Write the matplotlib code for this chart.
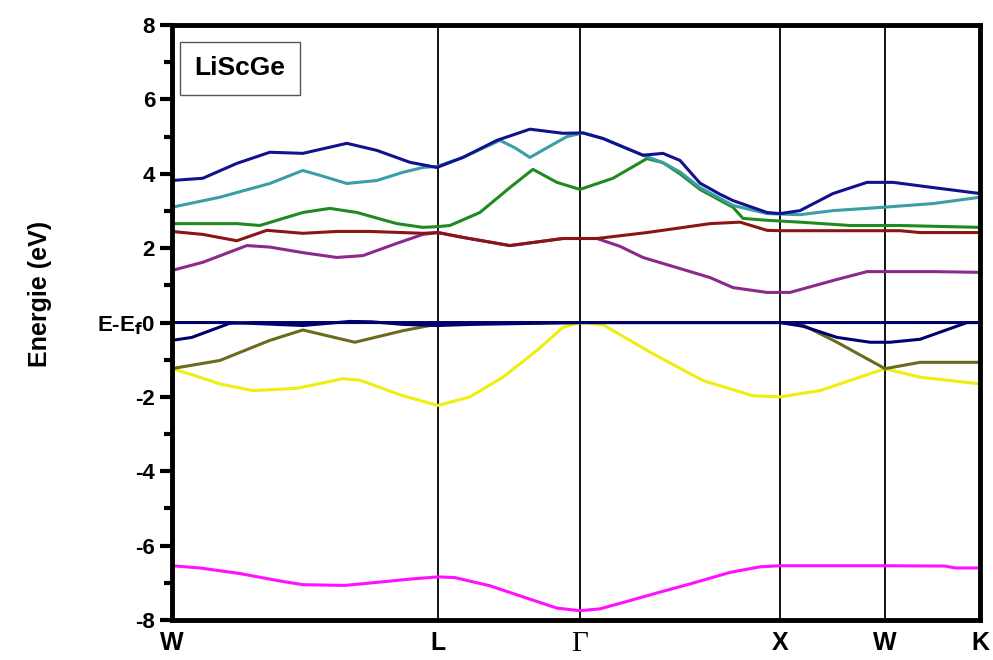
import matplotlib
matplotlib.use("Agg")
import matplotlib.pyplot as plt
import numpy as np

plt.rcParams['font.family'] = ['Liberation Sans', 'DejaVu Sans']
plt.rcParams['mathtext.default'] = 'bf'

# high-symmetry points along the k path
k_names = ['W', 'L', 'Γ', 'X', 'W', 'K']
k_pos = [0, 266, 408, 608, 713, 808]

# bands: (k, E)
mag_k = [0, 28, 68, 108, 131, 173, 208, 238, 266, 283, 318, 348, 385, 408, 428, 451, 488, 518, 558, 588, 608, 713, 773, 783, 808]
mag_e = [-6.54, -6.6, -6.75, -6.95, -7.05, -7.07, -6.98, -6.9, -6.84, -6.86, -7.08, -7.35, -7.68, -7.75, -7.7, -7.53, -7.25, -7.03, -6.72, -6.57, -6.54, -6.54, -6.55, -6.6, -6.6]

yel_k = [0, 20, 48, 81, 125, 171, 188, 231, 266, 298, 331, 365, 391, 408, 431, 481, 531, 581, 608, 648, 713, 748, 808]
yel_e = [-1.24, -1.4, -1.65, -1.83, -1.77, -1.51, -1.55, -1.97, -2.23, -2.0, -1.47, -0.75, -0.13, 0.0, -0.06, -0.84, -1.56, -1.97, -2.0, -1.83, -1.24, -1.47, -1.65]

oli_k = [0, 48, 98, 131, 183, 231, 258, 266, 408, 608, 631, 665, 713, 748, 808]
oli_e = [-1.24, -1.02, -0.48, -0.2, -0.53, -0.22, -0.08, -0.03, 0.0, 0.0, -0.07, -0.53, -1.24, -1.07, -1.07]

nva_k = [0, 20, 40, 58, 80, 266, 408, 608, 631, 665, 698, 718, 748, 795, 808]
nva_e = [-0.48, -0.4, -0.2, -0.02, 0.0, 0.0, 0.0, 0.0, -0.1, -0.4, -0.53, -0.53, -0.45, 0.0, 0.0]

nvb_k = [0, 60, 131, 178, 200, 231, 266, 300, 408, 608, 808]
nvb_e = [0.0, 0.0, -0.08, 0.03, 0.02, -0.05, -0.08, -0.05, 0.0, 0.0, 0.0]

pur_k = [0, 31, 75, 98, 131, 165, 191, 225, 251, 266, 291, 338, 391, 425, 448, 471, 538, 561, 595, 618, 661, 695, 761, 808]
pur_e = [1.4, 1.62, 2.07, 2.03, 1.88, 1.75, 1.8, 2.13, 2.37, 2.42, 2.29, 2.07, 2.26, 2.26, 2.05, 1.75, 1.21, 0.94, 0.81, 0.81, 1.13, 1.37, 1.37, 1.35]

red_k = [0, 31, 65, 95, 131, 165, 198, 251, 266, 291, 338, 391, 425, 475, 538, 568, 595, 608, 728, 748, 808]
red_e = [2.45, 2.37, 2.2, 2.48, 2.4, 2.45, 2.45, 2.4, 2.42, 2.29, 2.07, 2.26, 2.26, 2.42, 2.66, 2.7, 2.48, 2.47, 2.47, 2.42, 2.42]

grn_k = [0, 65, 88, 131, 158, 185, 225, 251, 266, 278, 308, 338, 361, 385, 408, 441, 475, 491, 508, 528, 561, 571, 595, 628, 678, 728, 808]
grn_e = [2.66, 2.66, 2.61, 2.96, 3.07, 2.96, 2.66, 2.56, 2.58, 2.61, 2.96, 3.63, 4.12, 3.77, 3.58, 3.88, 4.41, 4.3, 4.0, 3.58, 3.1, 2.8, 2.75, 2.7, 2.61, 2.61, 2.56]

cya_k = [0, 48, 98, 131, 148, 175, 205, 231, 251, 265, 291, 328, 343, 358, 375, 395, 411, 431, 471, 491, 508, 528, 561, 595, 628, 661, 711, 761, 808]
cya_e = [3.1, 3.37, 3.74, 4.09, 3.96, 3.74, 3.82, 4.04, 4.17, 4.2, 4.44, 4.9, 4.7, 4.44, 4.7, 5.0, 5.1, 4.95, 4.5, 4.3, 4.05, 3.63, 3.15, 2.93, 2.9, 3.01, 3.1, 3.2, 3.37]

blu_k = [0, 31, 65, 98, 131, 175, 205, 238, 265, 291, 325, 358, 391, 411, 431, 471, 491, 508, 528, 548, 561, 595, 608, 628, 661, 695, 721, 761, 808]
blu_e = [3.82, 3.88, 4.28, 4.58, 4.55, 4.82, 4.63, 4.31, 4.17, 4.44, 4.9, 5.2, 5.09, 5.1, 4.95, 4.5, 4.55, 4.36, 3.75, 3.45, 3.28, 2.96, 2.93, 3.01, 3.47, 3.77, 3.77, 3.63, 3.47]

bands = [
    (mag_k, mag_e, '#ff10ff'),
    (yel_k, yel_e, '#eeee10'),
    (oli_k, oli_e, '#6b6b1e'),
    (nvb_k, nvb_e, '#00006e'),
    (nva_k, nva_e, '#00006e'),
    (pur_k, pur_e, '#8a2a8a'),
    (red_k, red_e, '#8b1515'),
    (grn_k, grn_e, '#1f8a1f'),
    (cya_k, cya_e, '#3a9ea6'),
    (blu_k, blu_e, '#12128e'),
]

fig = plt.figure(figsize=(9.93, 6.6), dpi=100)
ax = fig.add_axes([0.173, 0.0606, 0.814, 0.9014])

# reference lines
for kp in k_pos[1:-1]:
    ax.axvline(kp, color='black', lw=1.3, zorder=1)
ax.axhline(0, color='black', lw=1.3, zorder=1)

for kk, ee, c in bands:
    ax.plot(kk, ee, color=c, lw=2.2, solid_joinstyle='round', zorder=2)

ax.set_xlim(k_pos[0], k_pos[-1])
ax.set_ylim(-8, 8)

ax.set_xticks(k_pos)
ax.set_xticklabels(k_names, fontsize=18, fontweight='bold')
for t in ax.get_xticklabels():
    if t.get_text() == 'Γ':
        t.set_fontfamily('Liberation Serif')
        t.set_fontweight('normal')
        t.set_fontsize(21)
ax.tick_params(axis='x', length=0, pad=8)

yt = np.arange(-8, 9, 2)
ylabels = [str(v) if v != 0 else 'E-E$_\\mathbf{f}$0' for v in yt]
ax.set_yticks(yt)
ax.set_yticklabels(ylabels, fontsize=16, fontweight='bold')
ax.set_yticks(np.arange(-7, 8, 2), minor=True)
ax.tick_params(axis='y', which='major', direction='out', length=9, width=3, pad=3)
ax.tick_params(axis='y', which='minor', direction='out', length=6, width=3)

for s in ax.spines.values():
    s.set_linewidth(3.5)

ax.text(0.028, 0.948, 'LiScGe', transform=ax.transAxes, fontsize=19,
        fontweight='bold', va='top', ha='left',
        bbox=dict(boxstyle='square,pad=0.55', fc='white', ec='#555555', lw=1))

fig.text(0.04, 0.555, 'Energie (eV)', rotation=90, fontsize=18,
         fontweight='bold', ha='center', va='center')

fig.savefig('out.png', dpi=100)
